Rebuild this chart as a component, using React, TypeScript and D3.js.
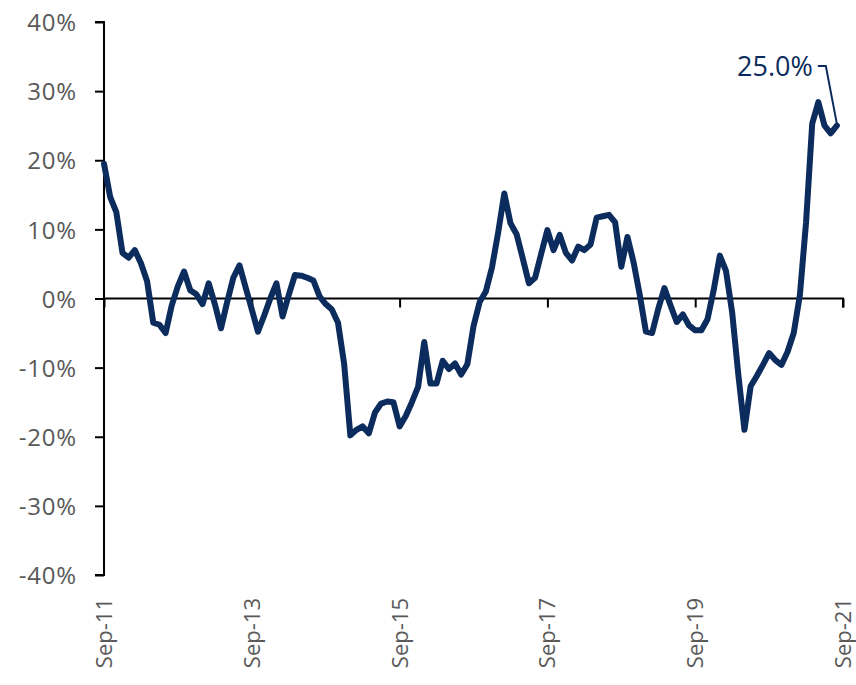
import React, { useEffect, useRef } from 'react';
import * as d3 from 'd3';

// monthly YoY change, Sep-11 .. Aug-21 (in %)
const values: number[] = [
  19.5, 14.7, 12.5, 6.6, 5.9, 7.0, 5.1, 2.5, -3.5, -3.8,
  -5.0, -1.0, 1.8, 3.9, 1.2, 0.6, -0.8, 2.2, -0.8, -4.3,
  -0.5, 3.0, 4.8, 1.6, -1.6, -4.8, -2.5, 0.0, 2.2, -2.6,
  0.5, 3.4, 3.3, 3.0, 2.6, 0.3, -0.8, -1.6, -3.5, -9.5,
  -19.8, -19.0, -18.5, -19.5, -16.5, -15.2, -14.9, -15.0, -18.5, -17.0,
  -15.0, -12.8, -6.3, -12.3, -12.3, -9.0, -10.2, -9.4, -11.0, -9.5,
  -4.0, -0.5, 1.0, 4.5, 9.5, 15.2, 10.9, 9.3, 5.8, 2.2,
  3.0, 6.5, 9.9, 7.0, 9.2, 6.6, 5.5, 7.5, 7.0, 7.8,
  11.7, 11.9, 12.1, 11.0, 4.6, 8.9, 5.2, 0.5, -4.8, -5.0,
  -1.5, 1.5, -1.0, -3.4, -2.3, -3.9, -4.6, -4.6, -3.0, 1.2,
  6.2, 4.0, -2.0, -11.0, -19.0, -12.7, -11.2, -9.6, -7.9, -8.9,
  -9.6, -7.7, -5.0, 0.5, 11.0, 25.3, 28.4, 25.0, 23.9, 25.0,
];

const xTickIdx: number[] = [0, 24, 48, 72, 96, 120];
const xTickLabels: string[] = ['Sep-11', 'Sep-13', 'Sep-15', 'Sep-17', 'Sep-19', 'Sep-21'];
const yTicks: number[] = [-40, -30, -20, -10, 0, 10, 20, 30, 40];
const lastLabel = '25.0%';

const W = 856;
const H = 685;
const NAVY = '#0b2c5c';
const FONT = '"Open Sans", "Segoe UI", sans-serif';

const App = () => {
  const svgRef = useRef<SVGSVGElement>(null);

  useEffect(() => {
    const svg = d3.select(svgRef.current);
    svg.selectAll('*').remove();

    const x = d3.scaleLinear().domain([0, 120]).range([104, 843]);
    const y = d3.scaleLinear().domain([-40, 40]).range([575, 22]);

    // y axis
    const yAxis = svg.append('g').attr('transform', `translate(${x(0)},0)`)
      .call(d3.axisLeft(y).tickValues(yTicks).tickSize(9).tickFormat(d => `${d}%`));
    yAxis.select('.domain').attr('stroke', '#000').attr('stroke-width', 2).attr('d', `M-9,${y(40)}H0V${y(-40)}H-9`);
    yAxis.selectAll('line').attr('stroke', '#000').attr('stroke-width', 2);
    yAxis.selectAll('text')
      .attr('x', -27)
      .attr('dy', '0.36em')
      .style('font-family', FONT)
      .style('font-size', '24px')
      .style('letter-spacing', '0.8px')
      .attr('fill', '#595959');

    // x axis at 0%
    const xAxis = svg.append('g').attr('transform', `translate(0,${y(0)})`)
      .call(d3.axisBottom(x).tickValues(xTickIdx).tickSize(9).tickFormat(() => ''));
    xAxis.select('.domain').attr('stroke', '#000').attr('stroke-width', 2).attr('d', `M${x(0)},0H${x(120)}V9`);
    xAxis.selectAll('line').attr('stroke', '#000').attr('stroke-width', 2);

    // rotated labels at bottom
    svg.append('g')
      .selectAll('text')
      .data(xTickIdx)
      .enter().append('text')
      .attr('transform', d => `translate(${x(d)},598) rotate(-90)`)
      .attr('dy', '0.36em')
      .attr('text-anchor', 'end')
      .style('font-family', FONT)
      .style('font-size', '22px')
      .attr('fill', '#595959')
      .text((d, i) => xTickLabels[i]);

    // the line
    const line = d3.line<number>()
      .x((d, i) => x(i))
      .y(d => y(d));

    svg.append('path')
      .datum(values)
      .attr('d', line)
      .attr('fill', 'none')
      .attr('stroke', NAVY)
      .attr('stroke-width', 6)
      .attr('stroke-linejoin', 'round')
      .attr('stroke-linecap', 'round');

    // last value label with leader
    const li = values.length - 1;
    const lx = x(li);
    const ly = y(values[li]);
    svg.append('path')
      .attr('d', `M${lx - 19},66H${lx - 11}L${lx},${ly - 2}`)
      .attr('fill', 'none')
      .attr('stroke', NAVY)
      .attr('stroke-width', 2);

    svg.append('text')
      .attr('x', lx - 24)
      .attr('y', 76)
      .attr('text-anchor', 'end')
      .style('font-family', FONT)
      .style('font-size', '27px')
      .attr('fill', NAVY)
      .text(lastLabel);
  }, []);

  return (
    <svg ref={svgRef} width={W} height={H}
      style={{ position: 'absolute', left: 0, top: 0, background: '#fff' }} />
  );
};

export default App;
